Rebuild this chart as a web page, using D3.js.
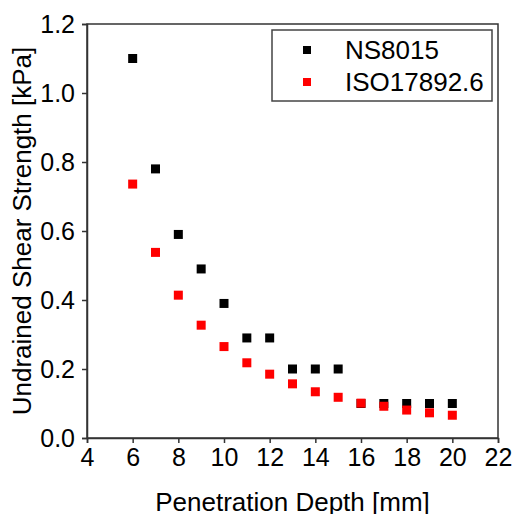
<!DOCTYPE html>
<html>
<head>
<meta charset="utf-8">
<script src="https://cdn.jsdelivr.net/npm/d3@7"></script>
<style>
  body { margin: 0; background: #fff; }
  svg text { font-family: "Liberation Sans", Arial, sans-serif; fill: #000; }
</style>
</head>
<body>
<div class="canvas"></div>
<script>
// data
const depth = [6, 7, 8, 9, 10, 11, 12, 13, 14, 15, 16, 17, 18, 19, 20];
const ns8015 = [1.1, 0.78, 0.59, 0.49, 0.39, 0.29, 0.29, 0.2, 0.2, 0.2, 0.1, 0.1, 0.1, 0.1, 0.1];
const iso17892 = [0.736, 0.538, 0.414, 0.327, 0.265, 0.218, 0.185, 0.157, 0.134, 0.118, 0.101, 0.092, 0.081, 0.073, 0.066];
const seriesNames = ["NS8015", "ISO17892.6"];
const seriesColors = ["#000000", "#ff0000"];
const xTicks = [4, 6, 8, 10, 12, 14, 16, 18, 20, 22];
const yTicks = [0, 0.2, 0.4, 0.6, 0.8, 1.0, 1.2];

const dims = { width: 515, height: 514 };
const plot = { left: 87, right: 498, top: 24, bottom: 438 };

const svg = d3
  .select(".canvas")
  .append("svg")
  .attr("width", dims.width)
  .attr("height", dims.height);

const x = d3.scaleLinear().domain([4, 22]).range([plot.left, plot.right]);
const y = d3.scaleLinear().domain([0, 1.2]).range([plot.bottom, plot.top]);

// frame
svg
  .append("rect")
  .attr("x", plot.left)
  .attr("y", plot.top)
  .attr("width", plot.right - plot.left)
  .attr("height", plot.bottom - plot.top)
  .attr("fill", "none")
  .attr("stroke", "#333")
  .attr("stroke-width", 1.5);

const xAxis = svg
  .append("g")
  .attr("transform", `translate(0, ${plot.bottom})`)
  .call(
    d3.axisBottom(x).tickValues(xTicks).tickSize(5).tickPadding(5).tickFormat(d3.format("d"))
  );

const yAxis = svg
  .append("g")
  .attr("transform", `translate(${plot.left}, 0)`)
  .call(
    d3.axisLeft(y).tickValues(yTicks).tickSize(5).tickPadding(7).tickFormat(d3.format(".1f"))
  );

[xAxis, yAxis].forEach((g) => {
  g.select(".domain").attr("stroke", "#333").attr("stroke-width", 1.5);
  g.selectAll(".tick line").attr("stroke", "#333").attr("stroke-width", 1.5);
  g.selectAll(".tick text")
    .attr("font-size", 25)
    .attr("font-family", '"Liberation Sans", Arial, sans-serif')
    .attr("fill", "#000");
});

// axis titles
svg
  .append("text")
  .attr("x", (plot.left + plot.right) / 2)
  .attr("y", 511)
  .attr("text-anchor", "middle")
  .attr("font-size", 26)
  .text("Penetration Depth [mm]");

svg
  .append("text")
  .attr("transform", `translate(31, ${(plot.top + plot.bottom) / 2}) rotate(-90)`)
  .attr("text-anchor", "middle")
  .attr("font-size", 26)
  .text("Undrained Shear Strength [kPa]");

// points
const ms = 9;
const series = [ns8015, iso17892];
series.forEach((vals, si) => {
  svg
    .append("g")
    .selectAll("rect")
    .data(depth.map((d, i) => ({ x: d, y: vals[i] })))
    .enter()
    .append("rect")
    .attr("x", (d) => x(d.x) - ms / 2)
    .attr("y", (d) => y(d.y) - ms / 2)
    .attr("width", ms)
    .attr("height", ms)
    .attr("fill", seriesColors[si]);
});

// legend
const legend = svg.append("g").attr("transform", "translate(272, 30)");
legend
  .append("rect")
  .attr("width", 220)
  .attr("height", 71)
  .attr("fill", "#fff")
  .attr("stroke", "#444")
  .attr("stroke-width", 1.5);

seriesNames.forEach((name, i) => {
  const row = legend.append("g").attr("transform", `translate(0, ${20 + i * 32})`);
  row
    .append("rect")
    .attr("x", 35 - 4)
    .attr("y", -4)
    .attr("width", 8)
    .attr("height", 8)
    .attr("fill", seriesColors[i]);
  row
    .append("text")
    .attr("x", 73)
    .attr("y", 9)
    .attr("font-size", 26)
    .text(name);
});
</script>
</body>
</html>
